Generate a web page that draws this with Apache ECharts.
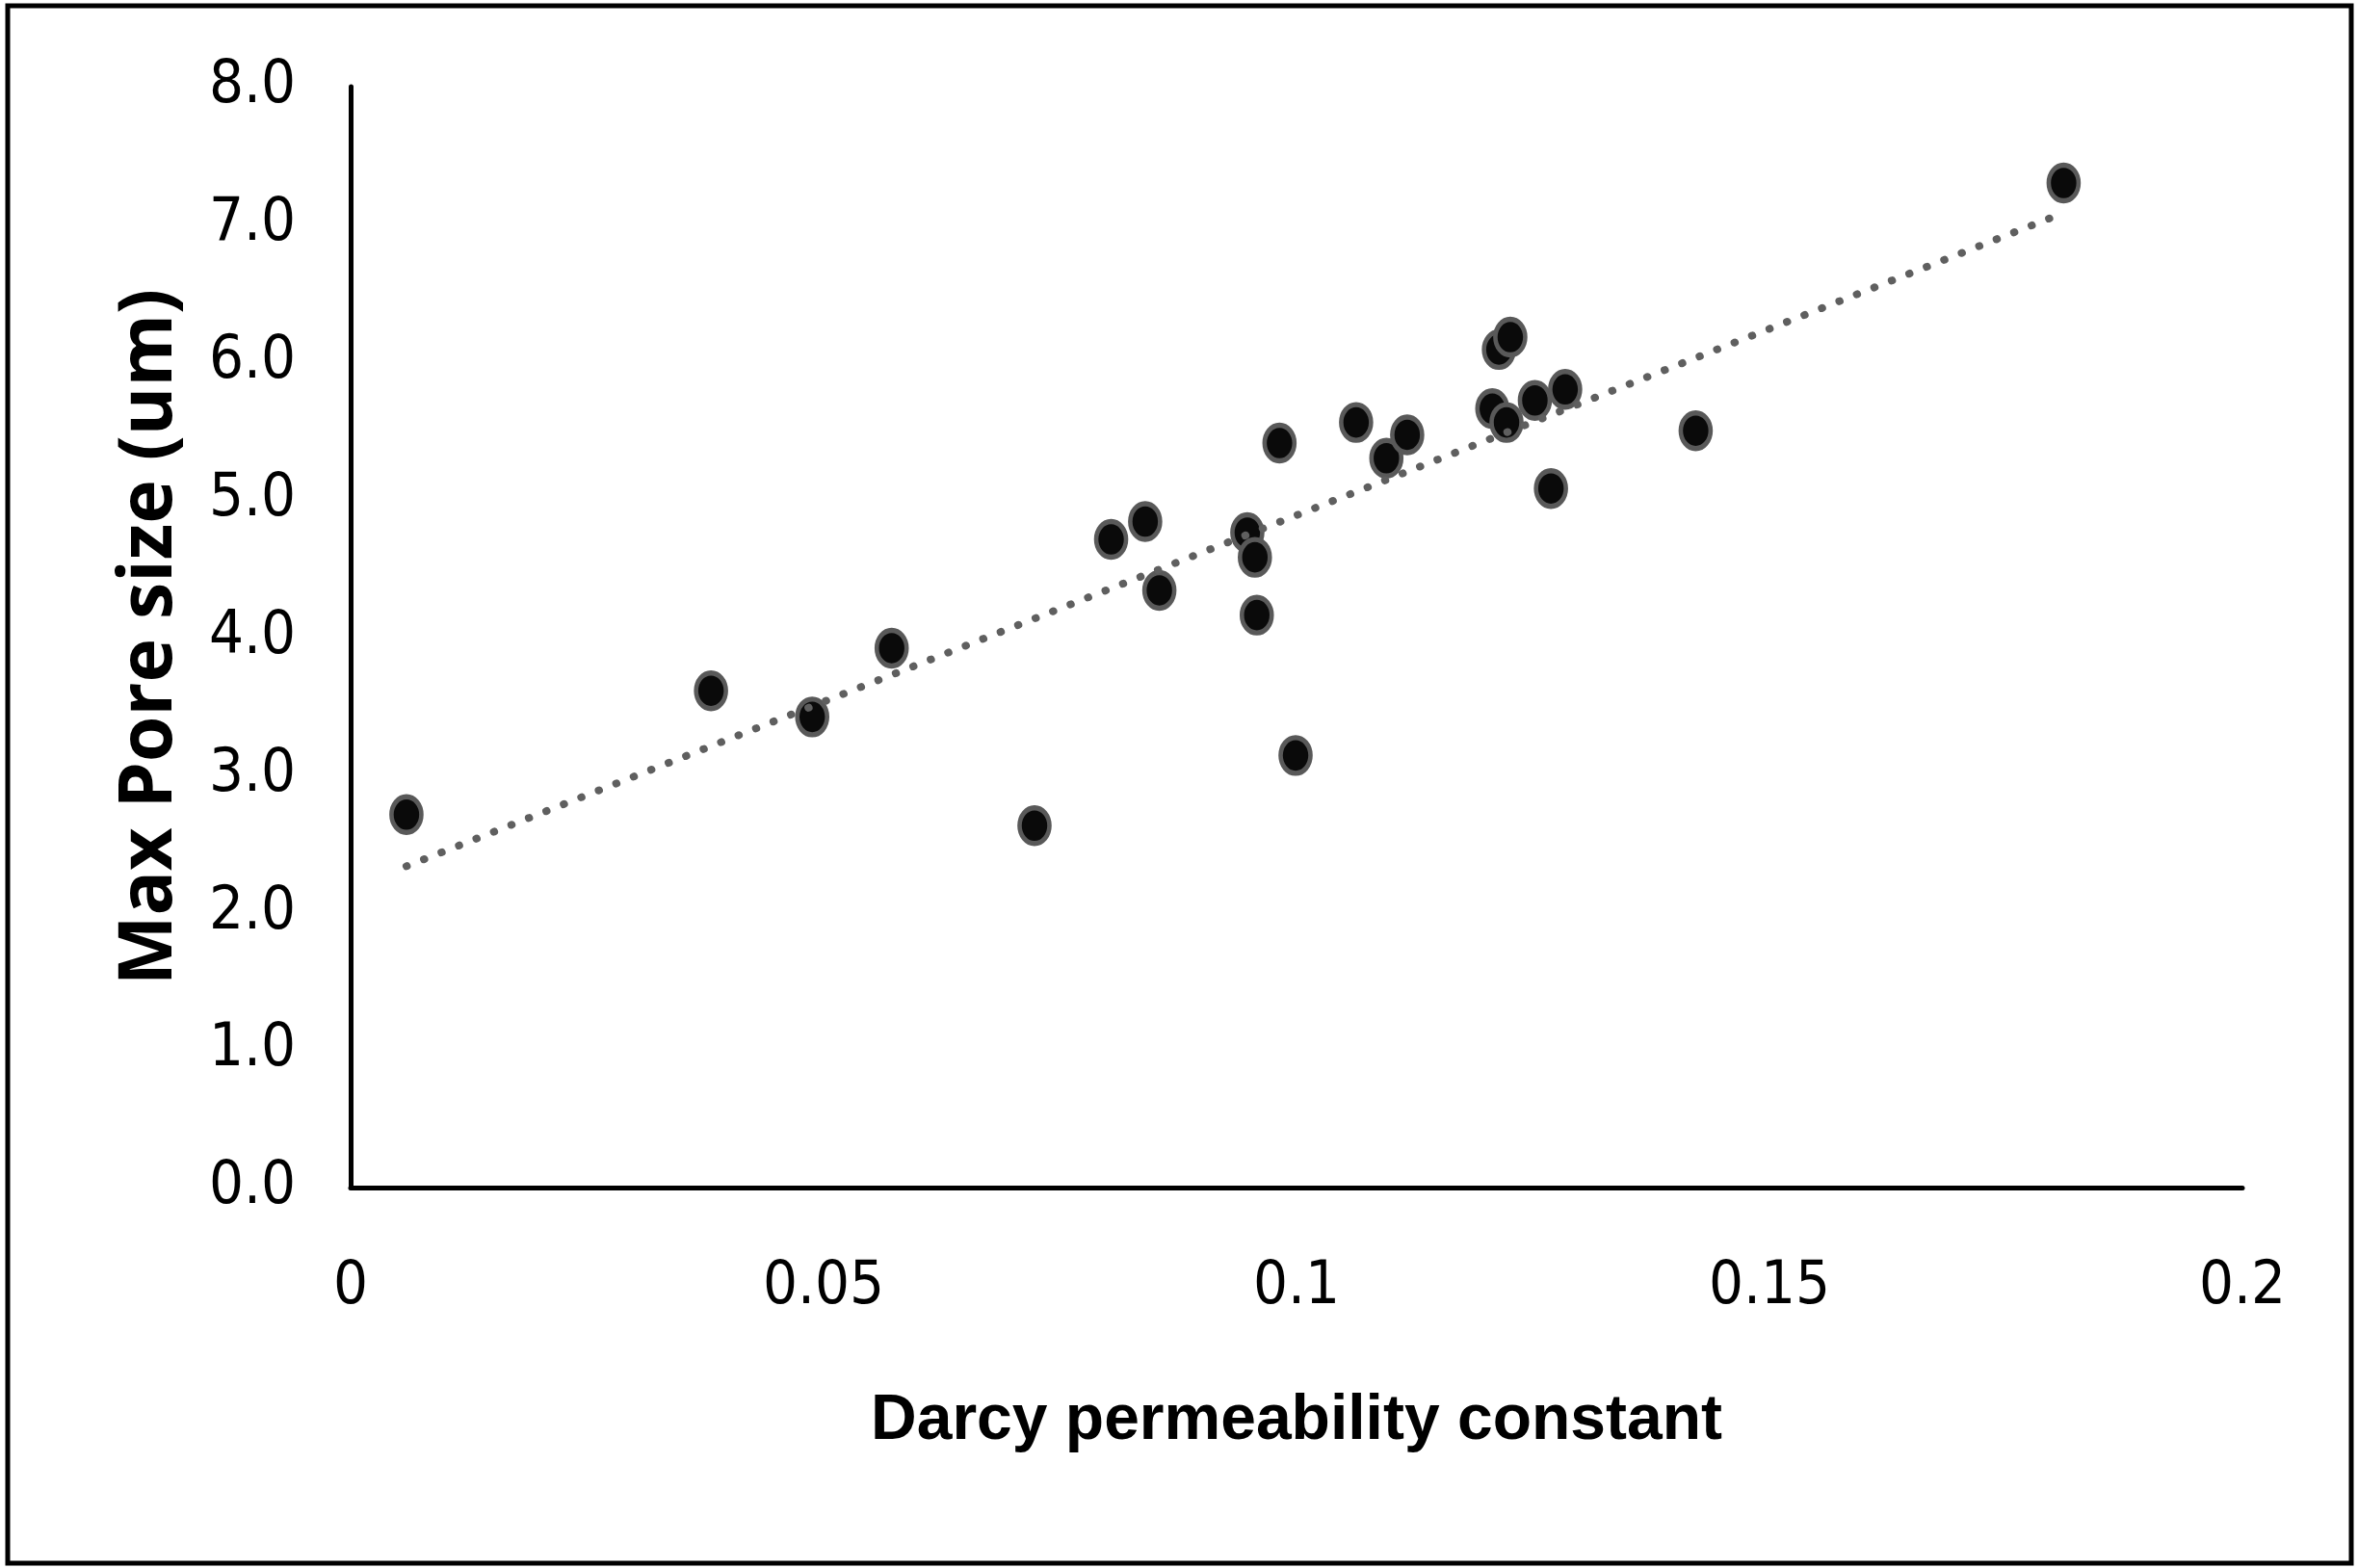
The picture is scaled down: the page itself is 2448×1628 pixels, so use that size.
<!DOCTYPE html>
<html>
<head>
<meta charset="utf-8">
<script src="https://cdn.jsdelivr.net/npm/echarts@6/dist/echarts.min.js"></script>
<style>
html,body{margin:0;padding:0;background:#fff;}
#chart{width:2448px;height:1628px;}
</style>
</head>
<body>
<div id="chart"></div>
<script>
// Darcy permeability constant (x) vs Max pore size in um (y)
const permeability = [0.0059, 0.0381, 0.0488, 0.0572, 0.0723, 0.0804, 0.0840, 0.0855, 0.0948, 0.0956, 0.0958, 0.0982, 0.0999, 0.1063, 0.1095, 0.1117, 0.1207, 0.1214, 0.1226, 0.1222, 0.1252, 0.1269, 0.1284, 0.1422, 0.1811];
const poreSize     = [2.71,   3.61,   3.42,   3.92,   2.63,   4.71,   4.84,   4.34,   4.76,   4.58,   4.16,   5.41,   3.14,   5.56,   5.30,   5.47,   5.66,   6.09,   6.18,   5.56,   5.72,   5.08,   5.80,   5.50,   7.30];
const xTicks = [0, 0.05, 0.1, 0.15, 0.2];
const yTicks = [0, 1, 2, 3, 4, 5, 6, 7, 8];
const xTitle = 'Darcy permeability constant';
const yTitle = 'Max Pore size (um)';

const points = permeability.map((x, i) => [x, poreSize[i]]);

// linear trendline (least squares) from the data
const n = points.length;
let sx = 0, sy = 0, sxx = 0, sxy = 0;
points.forEach(([x, y]) => { sx += x; sy += y; sxx += x * x; sxy += x * y; });
const slope = (n * sxy - sx * sy) / (n * sxx - sx * sx);
const intercept = (sy - slope * sx) / n;
const xMin = Math.min(...permeability), xMax = Math.max(...permeability);
const trend = [[xMin, intercept + slope * xMin], [xMax, intercept + slope * xMax]];

const tickFont = "'Liberation Sans Narrow', 'DejaVu Sans Condensed', sans-serif";

const chart = echarts.init(document.getElementById('chart'), null, {renderer: 'canvas'});
chart.setOption({
  backgroundColor: '#ffffff',
  animation: false,
  graphic: [{
    type: 'rect',
    shape: {x: 8, y: 6, width: 2433, height: 1617},
    style: {fill: 'none', stroke: '#000', lineWidth: 5},
    silent: true
  }],
  grid: {left: 364, right: 120, top: 90, bottom: 395, containLabel: false},
  xAxis: {
    type: 'value',
    min: xTicks[0], max: xTicks[xTicks.length - 1], interval: 0.05,
    axisLine: {show: true, onZero: false, lineStyle: {color: '#000', width: 5}},
    axisTick: {show: false},
    splitLine: {show: false},
    axisLabel: {
      margin: 72, color: '#000', fontFamily: tickFont, fontSize: 63,
      formatter: v => String(+v.toFixed(2))
    },
    name: xTitle, nameLocation: 'middle', nameGap: 210,
    nameTextStyle: {color: '#000', fontFamily: "'Liberation Sans', Arial, sans-serif", fontWeight: 'bold', fontSize: 66}
  },
  yAxis: {
    type: 'value',
    min: yTicks[0], max: yTicks[yTicks.length - 1], interval: 1,
    axisLine: {show: true, onZero: false, lineStyle: {color: '#000', width: 5}},
    axisTick: {show: false},
    splitLine: {show: false},
    axisLabel: {
      margin: 57, color: '#000', fontFamily: tickFont, fontSize: 63,
      formatter: v => v.toFixed(1)
    },
    name: yTitle, nameLocation: 'middle', nameGap: 169, nameRotate: 90,
    nameTextStyle: {color: '#000', fontFamily: "'Open Sans', 'Noto Sans', sans-serif", fontWeight: 'bold', fontSize: 77}
  },
  series: [
    {
      type: 'scatter',
      data: points,
      symbol: 'circle',
      symbolSize: [31, 37],
      itemStyle: {color: '#0a0a0a', borderColor: '#595959', borderWidth: 5, opacity: 1},
      z: 2
    },
    {
      type: 'line',
      data: trend,
      symbol: 'none',
      lineStyle: {color: '#5f5f5f', width: 8, type: [0.5, 19], cap: 'round'},
      z: 3
    }
  ]
});
</script>
</body>
</html>
